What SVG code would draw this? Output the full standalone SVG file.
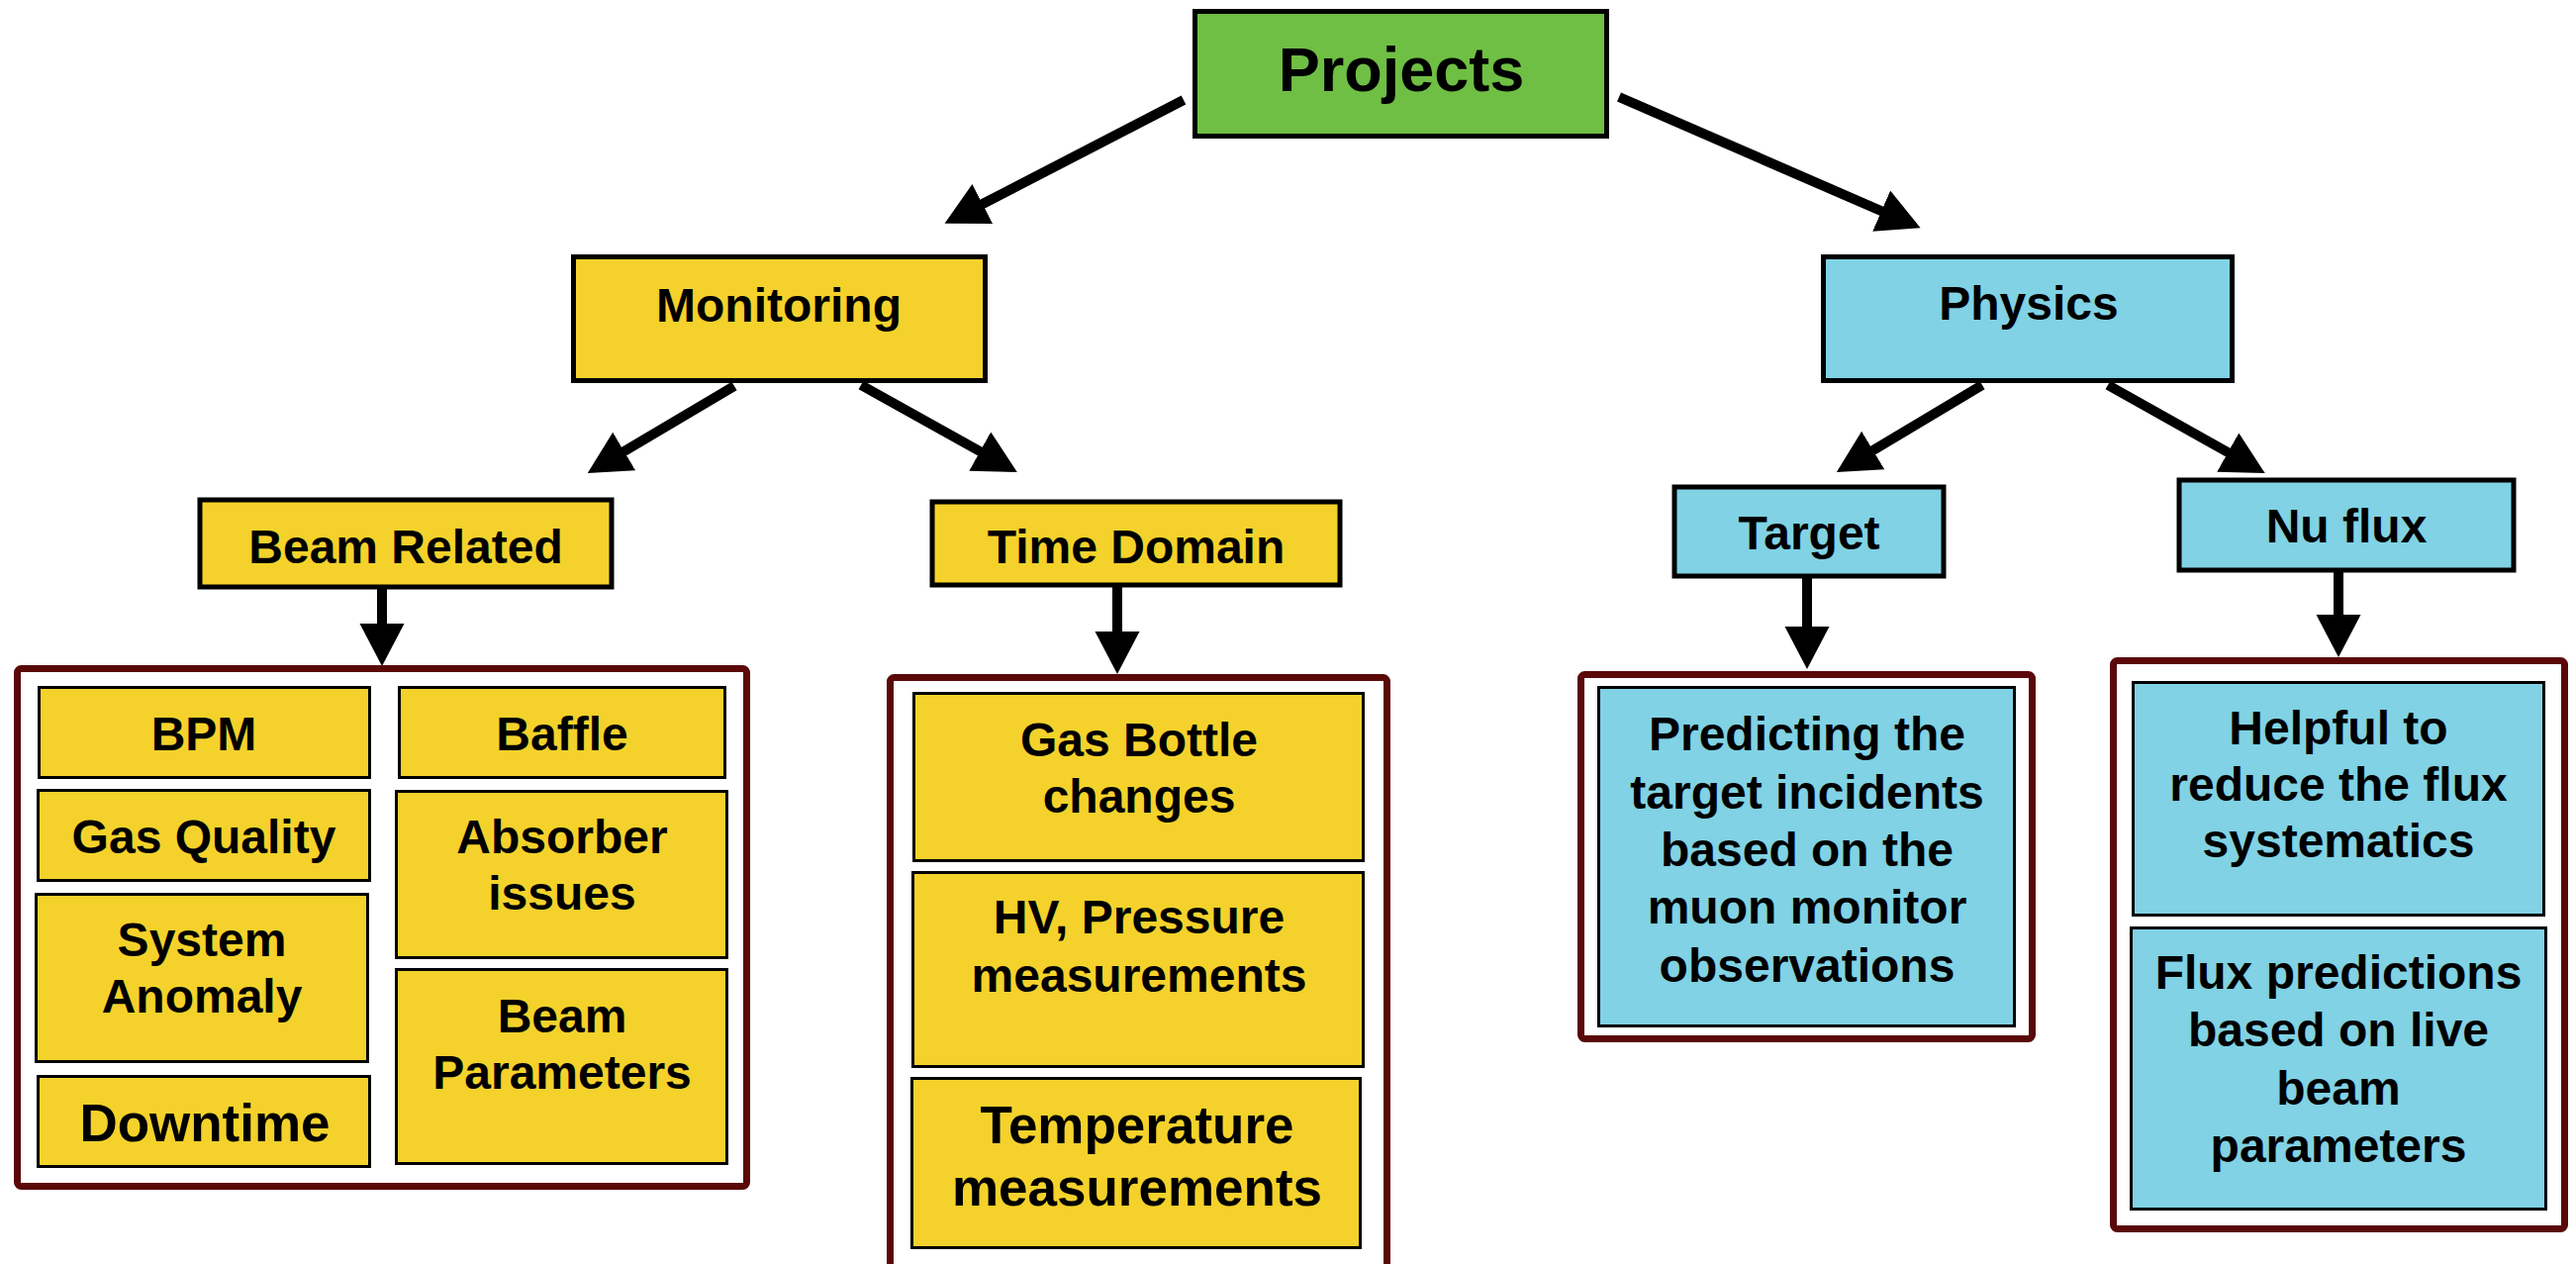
<svg xmlns="http://www.w3.org/2000/svg" width="2603" height="1277" viewBox="0 0 2603 1277">
<defs>
<style>
text{font-family:"Liberation Sans",Arial,Helvetica,sans-serif;font-weight:bold;fill:#000;text-anchor:middle}
.top{fill:#6FBF44;stroke:#000;stroke-width:5}
.mid{fill:#F4D22B;stroke:#000;stroke-width:5}
.midb{fill:#80D2E4;stroke:#000;stroke-width:5}
.leaf{fill:#F4D22B;stroke:#000;stroke-width:3}
.leafb{fill:#80D2E4;stroke:#000;stroke-width:3}
.cont{fill:#FFFFFF;stroke:#5A0808;stroke-width:7}
.arr{stroke:#000;stroke-width:10;fill:none;marker-end:url(#ah)}
.t63{font-size:63px}
.t48{font-size:48px}
.t53{font-size:53px}
</style>
<marker id="ah" markerUnits="userSpaceOnUse" markerWidth="46" markerHeight="46" refX="2" refY="22.5" orient="auto">
<path d="M0,0 L43,22.5 L0,45 z" fill="#000"/>
</marker>
</defs>
<rect width="2603" height="1277" fill="#FFFFFF"/>

<g id="connectors">
<line class="arr" x1="1196" y1="101" x2="991" y2="207"/>
<line class="arr" x1="1636" y1="98" x2="1903" y2="214"/>
<line class="arr" x1="742" y1="390" x2="629" y2="457"/>
<line class="arr" x1="870" y1="389" x2="992" y2="457"/>
<line class="arr" x1="2003" y1="389" x2="1891" y2="456"/>
<line class="arr" x1="2130" y1="389" x2="2253" y2="458"/>
<line class="arr" x1="386" y1="595" x2="386" y2="632"/>
<line class="arr" x1="1129" y1="593" x2="1129" y2="640"/>
<line class="arr" x1="1826" y1="584" x2="1826" y2="635"/>
<line class="arr" x1="2363" y1="578" x2="2363" y2="623"/>
</g>

<g id="projects">
<rect class="top" x="1207.5" y="11.5" width="416" height="126"/>
<text class="t63" x="1416" y="92">Projects</text>
</g>

<g id="monitoring">
<rect class="mid" x="579.5" y="259.5" width="416" height="125"/>
<text class="t48" x="787" y="325">Monitoring</text>
</g>

<g id="physics">
<rect class="midb" x="1842.5" y="259.5" width="413" height="125"/>
<text class="t48" x="2050" y="323">Physics</text>
</g>

<g id="beam-related">
<rect class="mid" x="202" y="505" width="416" height="88"/>
<text class="t48" x="410" y="569">Beam Related</text>
</g>

<g id="time-domain">
<rect class="mid" x="942" y="507" width="412" height="84"/>
<text class="t48" x="1148" y="569">Time Domain</text>
</g>

<g id="target">
<rect class="midb" x="1692" y="492" width="272" height="90"/>
<text class="t48" x="1828" y="555">Target</text>
</g>

<g id="nu-flux">
<rect class="midb" x="2202" y="485" width="338" height="91"/>
<text class="t48" x="2371" y="548">Nu flux</text>
</g>

<g id="beam-group">
<rect class="cont" x="17.5" y="675.5" width="737" height="523" rx="4"/>
</g>
<g id="bpm">
<rect class="leaf" x="39.5" y="694.5" width="334" height="91"/>
<text class="t48" x="206" y="758">BPM</text>
</g>
<g id="baffle">
<rect class="leaf" x="403.5" y="694.5" width="329" height="91"/>
<text class="t48" x="568" y="758">Baffle</text>
</g>
<g id="gas-quality">
<rect class="leaf" x="38.5" y="798.5" width="335" height="91"/>
<text class="t48" x="206" y="862">Gas Quality</text>
</g>
<g id="system-anomaly">
<rect class="leaf" x="36.5" y="903.5" width="335" height="169"/>
<text class="t48" x="204" y="966">System</text>
<text class="t48" x="204" y="1023">Anomaly</text>
</g>
<g id="downtime">
<rect class="leaf" x="38.5" y="1087.5" width="335" height="91"/>
<text class="t53" x="207" y="1153">Downtime</text>
</g>
<g id="absorber">
<rect class="leaf" x="400.5" y="799.5" width="334" height="168"/>
<text class="t48" x="568" y="862">Absorber</text>
<text class="t48" x="568" y="919">issues</text>
</g>
<g id="beam-parameters">
<rect class="leaf" x="400.5" y="979.5" width="334" height="196"/>
<text class="t48" x="568" y="1043">Beam</text>
<text class="t48" x="568" y="1100">Parameters</text>
</g>

<g id="time-group">
<rect class="cont" x="899.5" y="684.5" width="502" height="620" rx="4"/>
</g>
<g id="gas-bottle">
<rect class="leaf" x="923.5" y="700.5" width="454" height="169"/>
<text class="t48" x="1151" y="764">Gas Bottle</text>
<text class="t48" x="1151" y="821">changes</text>
</g>
<g id="hv-pressure">
<rect class="leaf" x="922.5" y="881.5" width="455" height="196"/>
<text class="t48" x="1151" y="943">HV, Pressure</text>
<text class="t48" x="1151" y="1002">measurements</text>
</g>
<g id="temperature">
<rect class="leaf" x="921.5" y="1089.5" width="453" height="171"/>
<text class="t53" x="1149" y="1155">Temperature</text>
<text class="t53" x="1149" y="1218">measurements</text>
</g>

<g id="target-group">
<rect class="cont" x="1597.5" y="681.5" width="456" height="368" rx="4"/>
</g>
<g id="predicting">
<rect class="leafb" x="1615.5" y="694.5" width="420" height="342"/>
<text class="t48" x="1826" y="758">Predicting the</text>
<text class="t48" x="1826" y="817">target incidents</text>
<text class="t48" x="1826" y="875">based on the</text>
<text class="t48" x="1826" y="933">muon monitor</text>
<text class="t48" x="1826" y="992">observations</text>
</g>

<g id="flux-group">
<rect class="cont" x="2135.5" y="667.5" width="456" height="574" rx="4"/>
</g>
<g id="helpful">
<rect class="leafb" x="2155.5" y="689.5" width="415" height="235"/>
<text class="t48" x="2363" y="752">Helpful to</text>
<text class="t48" x="2363" y="809">reduce the flux</text>
<text class="t48" x="2363" y="866">systematics</text>
</g>
<g id="flux-predictions">
<rect class="leafb" x="2153.5" y="937.5" width="419" height="284"/>
<text class="t48" x="2363" y="999">Flux predictions</text>
<text class="t48" x="2363" y="1057">based on live</text>
<text class="t48" x="2363" y="1116">beam</text>
<text class="t48" x="2363" y="1174">parameters</text>
</g>
</svg>
